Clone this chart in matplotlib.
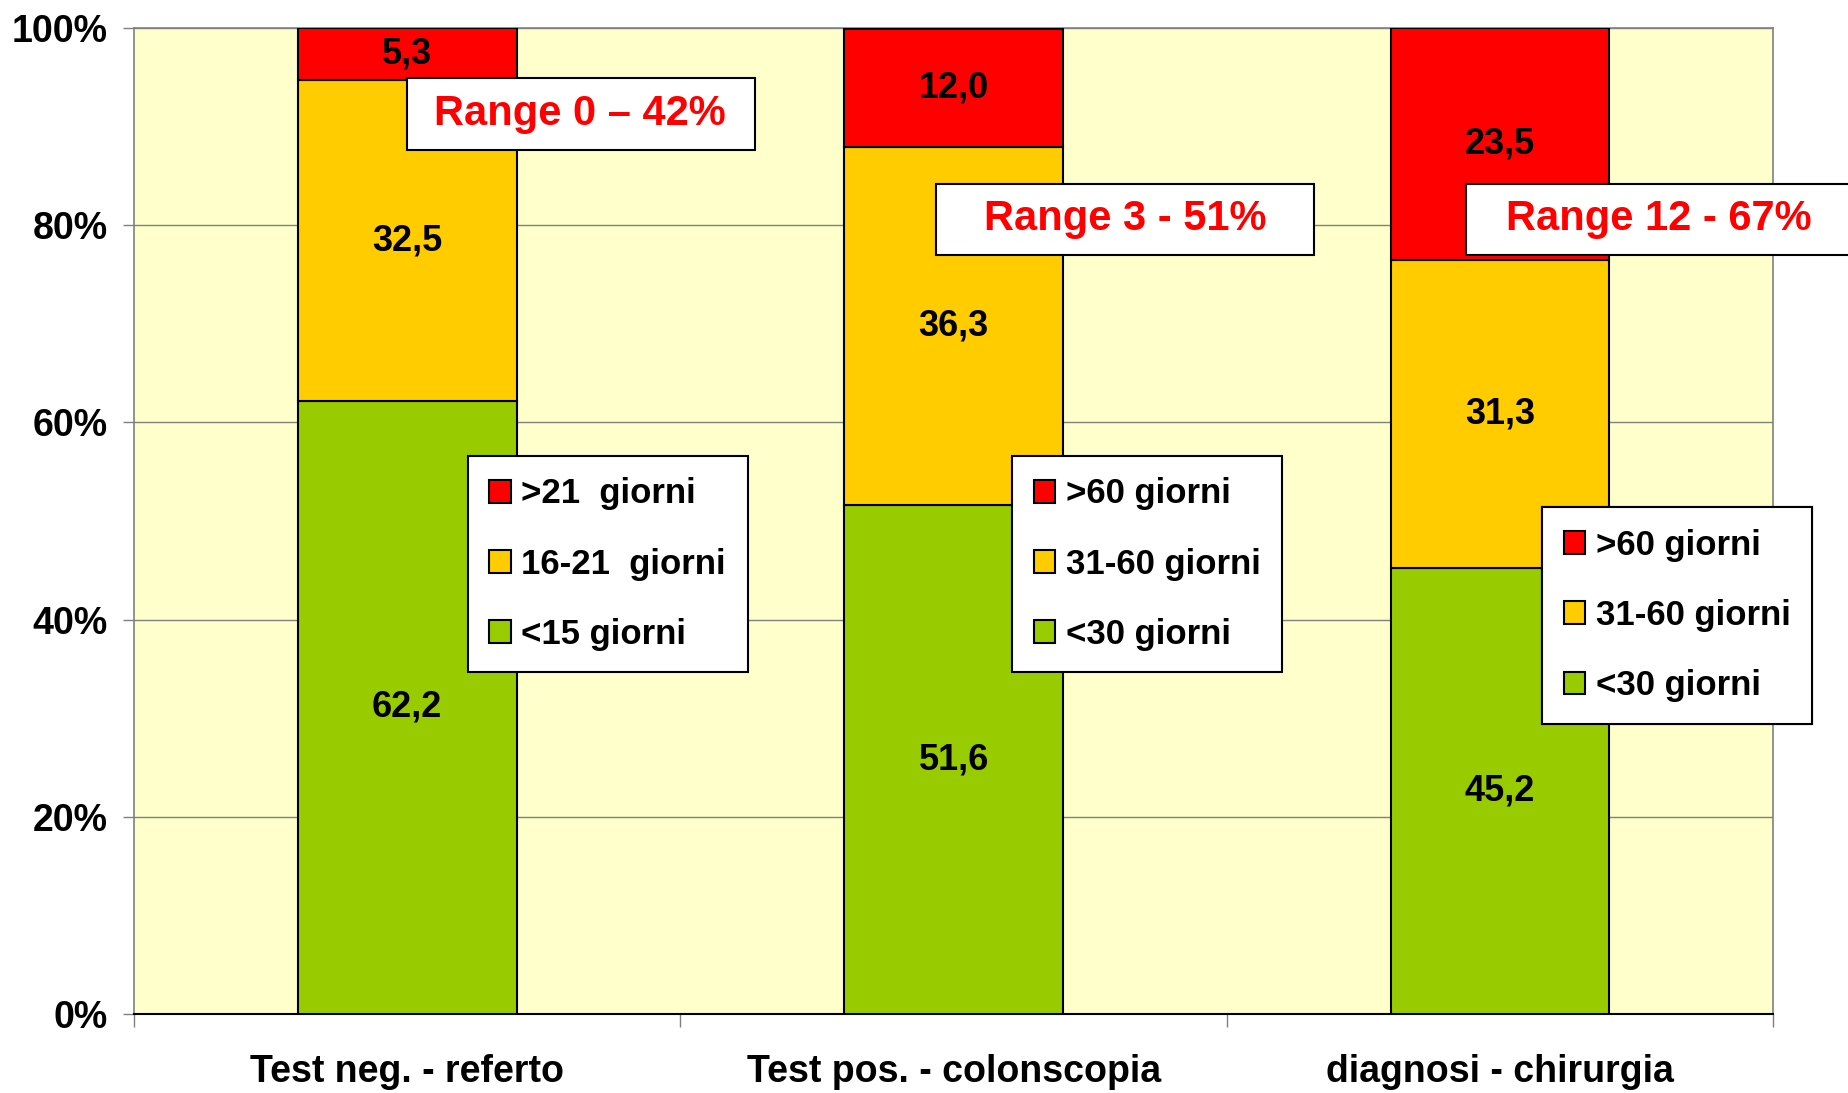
import numpy as np
import matplotlib.pyplot as plt
from matplotlib.patches import Patch, Rectangle

categories = ['Test neg. - referto', 'Test pos. - colonscopia', 'diagnosi - chirurgia']
verde = [62.2, 51.6, 45.2]
giallo = [32.5, 36.3, 31.3]
rosso = [5.3, 12.0, 23.5]
range_labels = ['Range 0 \u2013 42%', 'Range 3 - 51%', 'Range 12 - 67%']
legend_labels = [['>21  giorni', '16-21  giorni', '<15 giorni'],
                 ['>60 giorni', '31-60 giorni', '<30 giorni'],
                 ['>60 giorni', '31-60 giorni', '<30 giorni']]

c_green = '#99CC00'
c_yellow = '#FFCC00'
c_red = '#FF0000'

plt.rcParams['font.family'] = ['Liberation Sans', 'DejaVu Sans']
plt.rcParams['font.weight'] = 'bold'

fig = plt.figure(figsize=(18.49, 10.93), dpi=100)
ax = fig.add_axes([0.0725, 0.0723, 0.8865, 0.902])
ax.set_facecolor('#FFFFCC')

x = np.arange(len(categories)) + 0.5
w = 0.4
b1 = ax.bar(x, verde, w, color=c_green, edgecolor='black', linewidth=1.5, zorder=3)
b2 = ax.bar(x, giallo, w, bottom=verde, color=c_yellow, edgecolor='black', linewidth=1.5, zorder=3)
b3 = ax.bar(x, rosso, w, bottom=np.add(verde, giallo), color=c_red, edgecolor='black', linewidth=1.5, zorder=3)

for bars, vals in [(b1, verde), (b2, giallo), (b3, rosso)]:
    ax.bar_label(bars, labels=[f'{v:.1f}'.replace('.', ',') for v in vals],
                 label_type='center', fontsize=26, fontweight='bold', color='black', zorder=4)

ax.set_xlim(0, 3)
ax.set_ylim(0, 100)
ax.set_yticks(np.arange(0, 101, 20))
ax.set_yticklabels([f'{v}%' for v in range(0, 101, 20)], fontsize=27, fontweight='bold')
ax.yaxis.grid(True, color='#808080', linewidth=1, zorder=0)
ax.set_axisbelow(True)
ax.tick_params(axis='y', length=8, width=1, color='#808080', pad=11)

ax.set_xticks([0, 1, 2, 3])
ax.set_xticklabels([])
ax.set_xticks(x, minor=True)
ax.set_xticklabels(categories, minor=True, fontsize=27, fontweight='bold')
ax.tick_params(axis='x', which='major', length=9, width=1, color='#808080')
ax.tick_params(axis='x', which='minor', length=0, pad=29)

for s in ['left', 'right', 'top']:
    ax.spines[s].set_color('#808080')
    ax.spines[s].set_linewidth(1.2)
ax.spines['bottom'].set_color('black')
ax.spines['bottom'].set_linewidth(1.5)

# caselle "Range": (x0, x1, y0, y1, centro testo)
range_boxes = [(0.4997, 1.1367, 87.6, 94.9, 0.816),
               (1.468, 2.160, 77.0, 84.2, 1.814),
               (2.438, 3.3, 77.0, 84.2, 2.790)]
for (x0, x1, y0, y1, tx), txt in zip(range_boxes, range_labels):
    ax.add_patch(Rectangle((x0, y0), x1 - x0, y1 - y0, facecolor='white', edgecolor='black',
                           linewidth=1.5, zorder=6, clip_on=False))
    ax.text(tx, (y0 + y1) / 2, txt, ha='center', va='center', fontsize=30, fontweight='bold',
            color=c_red, zorder=7, clip_on=False)

# legende
legend_pos = [(0.611, 56.6), (1.607, 56.6), (2.577, 51.4)]
for (lx, ly), labs in zip(legend_pos, legend_labels):
    handles = [Patch(facecolor=c, edgecolor='black', linewidth=1.5) for c in (c_red, c_yellow, c_green)]
    leg = ax.legend(handles, labs, loc='upper left', bbox_to_anchor=(lx, ly), bbox_transform=ax.transData,
                    borderaxespad=0, fancybox=False, framealpha=1, edgecolor='black',
                    prop={'size': 25, 'weight': 'bold'}, handlelength=0.62, handleheight=0.62,
                    handletextpad=0.3, labelspacing=1.07, borderpad=0.62)
    leg.get_frame().set_linewidth(1.5)
    leg.set_zorder(7)
    ax.add_artist(leg)

fig.savefig('out.png', dpi=100)
